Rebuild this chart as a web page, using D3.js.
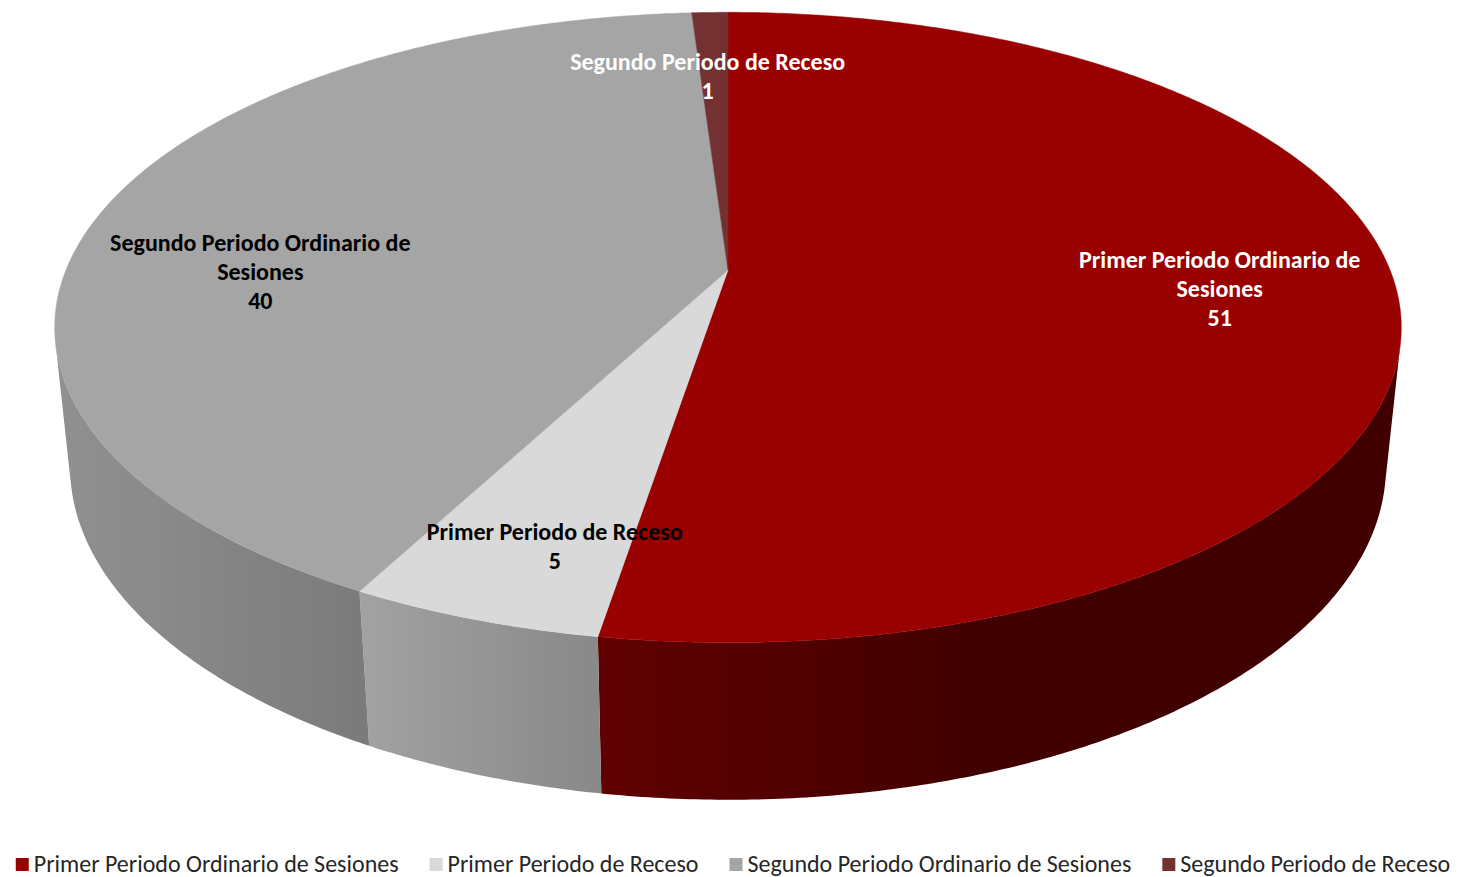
<!DOCTYPE html>
<html>
<head>
<meta charset="utf-8">
<script src="https://cdn.jsdelivr.net/npm/d3@7"></script>
<style>
  body { margin: 0; background: #fff; }
  text { font-family: Carlito, Calibri, "Noto Sans", sans-serif; }
</style>
</head>
<body>
<div id="chart"></div>
<script>
const categories = [
  "Primer Periodo Ordinario de Sesiones",
  "Primer Periodo de Receso",
  "Segundo Periodo Ordinario de Sesiones",
  "Segundo Periodo de Receso"
];
const values = [51, 5, 40, 1];
const labelLines = [
  ["Primer Periodo Ordinario de", "Sesiones"],
  ["Primer Periodo de Receso"],
  ["Segundo Periodo Ordinario de", "Sesiones"],
  ["Segundo Periodo de Receso"]
];
const colors = ["#990000", "#d9d9d9", "#a5a5a5", "#733131"];
const labelColors = ["#ffffff", "#000000", "#000000", "#ffffff"];

const svgWidth = 1459;
const svgHeight = 877;

// 3d view of the pie
const cx = 728, cy = 270;
const F = 3224, dist = 4.87;
const tilt = 27.4 * Math.PI / 180;
const depth = 0.239;
const sinA = Math.sin(tilt), cosA = Math.cos(tilt);

function project(x, y, z) {
  const dy = y - dist * sinA, dz = z - dist * cosA;
  const yc = dy * cosA - dz * sinA;
  const zc = -dy * sinA - dz * cosA;
  return [cx + F * x / zc, cy - F * yc / zc];
}
function rim(a, r, y) {
  return project(r * Math.sin(a), y, -r * Math.cos(a));
}

// light from the left
const L = [-0.949, 0.316];
function shade(color, a) {
  const dot = L[0] * Math.sin(a) + L[1] * (-Math.cos(a));
  const f = 0.42 + 0.45 * Math.max(0, dot);
  const c = d3.rgb(color);
  return d3.rgb(c.r * f, c.g * f, c.b * f).formatHex();
}

const svg = d3.select("#chart")
  .append("svg")
  .attr("width", svgWidth)
  .attr("height", svgHeight);
const defs = svg.append("defs");

const pie = d3.pie().sort(null).value(d => d);
const arcs = pie(values);

const step = Math.PI / 360;
const visLimit = Math.acos(-1 / (dist * cosA)); // wall faces the viewer between visLimit and 2PI - visLimit

// outer walls, one path per slice with a horizontal gradient
const walls = svg.append("g");
arcs.forEach((d, i) => {
  const a0 = Math.max(d.startAngle, visLimit);
  const a1 = Math.min(d.endAngle, 2 * Math.PI - visLimit);
  if (a1 <= a0) return;
  const n = Math.max(2, Math.ceil((a1 - a0) / step));
  const angles = d3.range(n + 1).map(k => a0 + (a1 - a0) * k / n);
  const top = angles.map(a => rim(a, 1, 0));
  const bottom = angles.map(a => rim(a, 1, -depth)).reverse();
  const xs = top.map(p => p[0]);
  const xMin = d3.min(xs), xMax = d3.max(xs);
  const grad = defs.append("linearGradient")
    .attr("id", "wall" + i)
    .attr("gradientUnits", "userSpaceOnUse")
    .attr("x1", xMin).attr("x2", xMax)
    .attr("y1", 0).attr("y2", 0);
  const stops = angles.filter((a, k) => k % 6 === 0 || k === n)
    .map(a => ({ off: (rim(a, 1, 0)[0] - xMin) / (xMax - xMin || 1), col: shade(colors[i], a) }))
    .sort((p, q) => p.off - q.off);
  grad.selectAll("stop")
    .data(stops)
    .join("stop")
    .attr("offset", s => s.off)
    .attr("stop-color", s => s.col);
  walls.append("path")
    .attr("d", d3.line()(top.concat(bottom)) + "Z")
    .attr("fill", `url(#wall${i})`);
});

// top faces
const tops = svg.append("g");
arcs.forEach((d, i) => {
  const pts = [project(0, 0, 0)];
  const n = Math.max(2, Math.ceil((d.endAngle - d.startAngle) / step));
  for (let k = 0; k <= n; k++) {
    const a = d.startAngle + (d.endAngle - d.startAngle) * k / n;
    pts.push(rim(a, 1, 0));
  }
  tops.append("path")
    .attr("d", d3.line()(pts) + "Z")
    .attr("fill", colors[i])
    .attr("stroke", colors[i])
    .attr("stroke-width", 0.5);
});

// data labels
const labelRadius = [0.74, 0.82, 0.72, 0.7];
const labelShift = [[-2, 0], [28, 0], [-14, 46], [-7, -5]];
const lineH = 29;
arcs.forEach((d, i) => {
  const mid = (d.startAngle + d.endAngle) / 2;
  const p = rim(mid, labelRadius[i], 0);
  const lines = labelLines[i].concat([String(values[i])]);
  const x = p[0] + labelShift[i][0];
  const y0 = p[1] + labelShift[i][1] - (lines.length - 1) * lineH / 2;
  const t = svg.append("text")
    .attr("text-anchor", "middle")
    .attr("font-size", 24)
    .attr("font-weight", "bold")
    .attr("fill", labelColors[i]);
  lines.forEach((s, k) => {
    t.append("tspan")
      .attr("x", x)
      .attr("y", y0 + k * lineH)
      .attr("dy", "0.35em")
      .text(s);
  });
});

// legend
const legend = svg.append("g");
const items = legend.selectAll("g")
  .data(categories)
  .join("g");
items.append("rect")
  .attr("width", 13)
  .attr("height", 13)
  .attr("y", -6)
  .attr("fill", (d, i) => colors[i]);
items.append("text")
  .attr("x", 18)
  .attr("dy", "0.35em")
  .attr("font-size", 24)
  .attr("fill", "#262626")
  .text(d => d);
const widths = [];
items.each(function () { widths.push(18 + d3.select(this).select("text").node().getComputedTextLength()); });
const gap = 31;
const total = d3.sum(widths) + gap * (widths.length - 1);
let lx = 733 - total / 2;
items.attr("transform", (d, i) => {
  const tr = `translate(${lx},864)`;
  lx += widths[i] + gap;
  return tr;
});
</script>
</body>
</html>
